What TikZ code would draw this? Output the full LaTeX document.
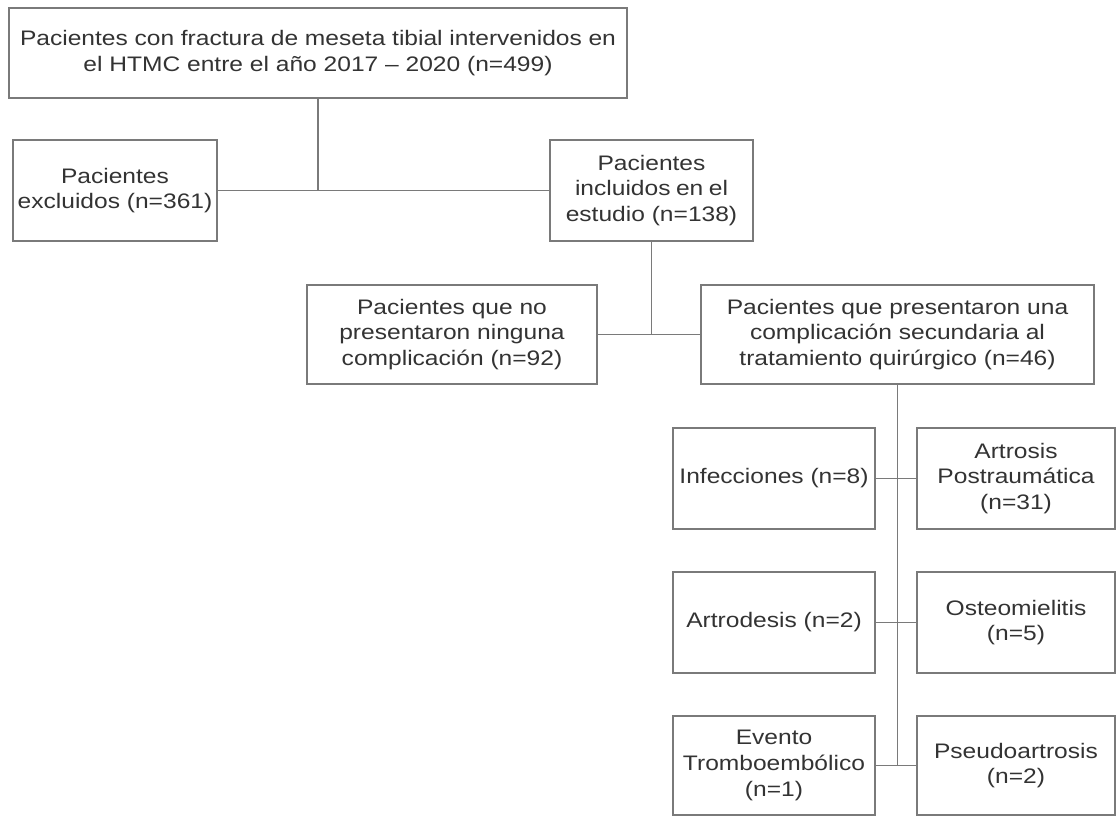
\documentclass[tikz,border=0pt]{standalone}
\usepackage{fontspec}
\setmainfont{Liberation Sans}[FakeStretch=1.17]
\usepackage{tikz}

\definecolor{boxline}{HTML}{7A7A7A}
\definecolor{boxtext}{HTML}{333333}

\begin{document}
\begin{tikzpicture}[x=1pt, y=-1pt,
		box_style/.style={rectangle,draw=boxline,line width=1.2pt,fill=white,text=boxtext,
			align=center,inner sep=0pt,font=\fontsize{21}{25.7}\selectfont},
		edge_style/.style={draw=boxline,line width=1.2pt}]
		\useasboundingbox (0,0) rectangle (1119,815);
		\node[box_style,minimum width=618pt,minimum height=90pt] (total) at (318,53)
			{\makebox[596pt][s]{Pacientes con fractura de meseta tibial intervenidos en}\\ el HTMC entre el año 2017 -- 2020 (n=499)};
		\node[box_style,minimum width=204pt,minimum height=101pt] (excl) at (115,190.5)
			{Pacientes\\ excluidos (n=361)};
		\node[box_style,minimum width=203pt,minimum height=101pt] (incl) at (651.5,190.5)
			{Pacientes\\ \makebox[153pt][s]{incluidos en el}\\ estudio (n=138)};
		\node[box_style,minimum width=290pt,minimum height=99pt] (nocomp) at (452,334.5)
			{Pacientes que no\\ presentaron ninguna\\ complicación (n=92)};
		\node[box_style,minimum width=393pt,minimum height=99pt] (comp) at (897.5,334.5)
			{Pacientes que presentaron una\\ complicación secundaria al\\ tratamiento quirúrgico (n=46)};
		\node[box_style,minimum width=202pt,minimum height=101pt] (infec) at (774,478.5)
			{Infecciones (n=8)};
		\node[box_style,minimum width=198pt,minimum height=101pt] (artrosis) at (1016,478.5)
			{Artrosis\\ Postraumática\\ (n=31)};
		\node[box_style,minimum width=202pt,minimum height=101pt] (artrodesis) at (774,622.5)
			{Artrodesis (n=2)};
		\node[box_style,minimum width=198pt,minimum height=101pt] (osteo) at (1016,622.5)
			{Osteomielitis\\ (n=5)};
		\node[box_style,minimum width=202pt,minimum height=99pt] (evento) at (774,765.5)
			{Evento\\ Tromboembólico\\ (n=1)};
		\node[box_style,minimum width=198pt,minimum height=99pt] (pseudo) at (1016,765.5)
			{Pseudoartrosis\\ (n=2)};
		\coordinate (j1) at (total.south |- excl.east);
		\coordinate (j2) at (incl.south |- nocomp.east);
		\coordinate (j3) at (comp.south |- evento.east);
		\draw[edge_style] (excl) -- (incl);
		\draw[edge_style] (total) -- (j1);
		\draw[edge_style] (nocomp) -- (comp);
		\draw[edge_style] (incl) -- (j2);
		\draw[edge_style] (comp.south) -- (j3);
		\draw[edge_style] (infec) -- (artrosis);
		\draw[edge_style] (artrodesis) -- (osteo);
		\draw[edge_style] (evento) -- (pseudo);
\end{tikzpicture}
\end{document}
